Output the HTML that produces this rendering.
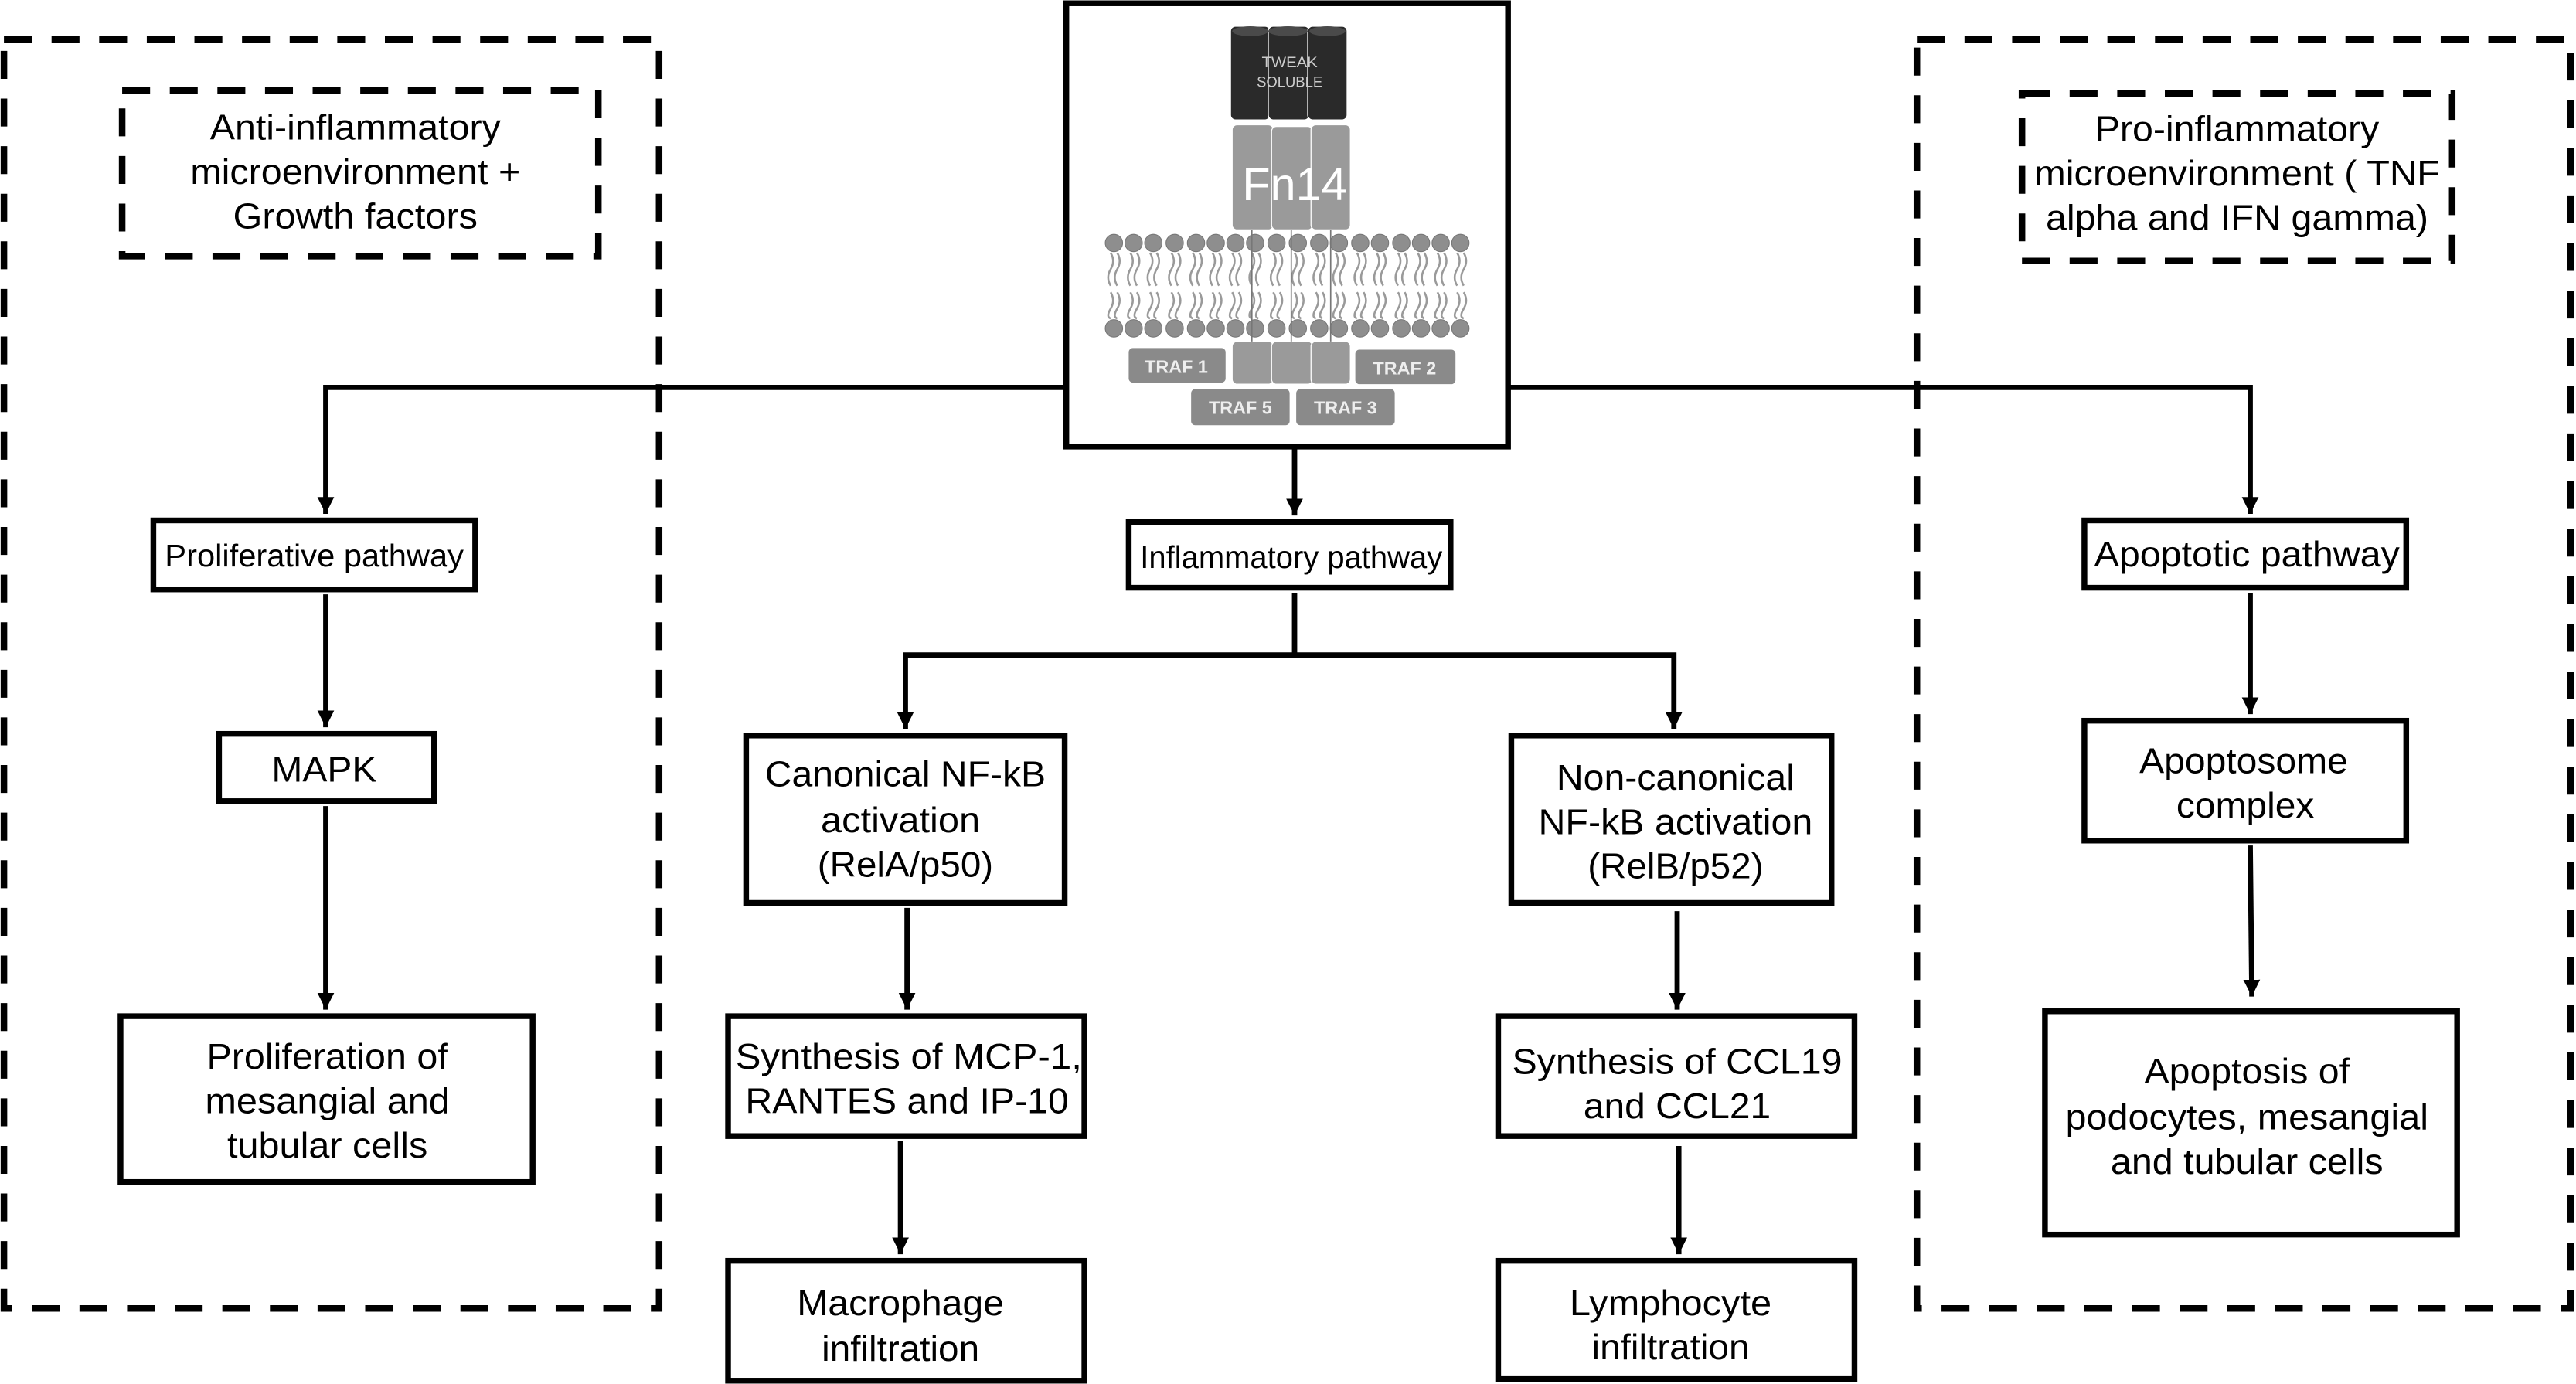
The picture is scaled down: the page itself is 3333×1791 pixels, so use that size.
<!DOCTYPE html>
<html><head><meta charset="utf-8"><style>html,body{margin:0;padding:0;background:#fff}svg{display:block}</style></head>
<body>
<svg width="3333" height="1791" viewBox="0 0 1568 843" xmlns="http://www.w3.org/2000/svg" font-family="'Liberation Sans', Arial, sans-serif">
<defs>
<marker id="ah" viewBox="0 0 10 10" refX="10" refY="5" markerWidth="3.2" markerHeight="3.2" orient="auto" markerUnits="strokeWidth"><path d="M0,0 L10,5 L0,10 z" fill="#000"/></marker>
</defs>
<rect width="1568" height="843" fill="#fff"/>
<g fill="none" stroke="#000" stroke-width="4" stroke-dasharray="17,12">
<rect x="2" y="24" width="399" height="773"/>
<rect x="74" y="55" width="290" height="101"/>
<rect x="1167" y="24" width="398" height="773"/>
<rect x="1231" y="57" width="262" height="102"/>
</g>
<g stroke="#000" stroke-width="3.2" fill="none">
<polyline points="648,236 198,236 198,313" marker-end="url(#ah)"/>
<polyline points="919,236 1370,236 1370,313" marker-end="url(#ah)"/>
<line x1="788" y1="273" x2="788" y2="314" marker-end="url(#ah)"/>
<line x1="198" y1="362" x2="198" y2="443" marker-end="url(#ah)"/>
<line x1="198" y1="491" x2="198" y2="615" marker-end="url(#ah)"/>
<polyline points="788,361 788,399 551,399 551,444" marker-end="url(#ah)"/>
<polyline points="788,399 1019,399 1019,444" marker-end="url(#ah)"/>
<line x1="552" y1="553" x2="552" y2="615" marker-end="url(#ah)"/>
<line x1="548" y1="695" x2="548" y2="764" marker-end="url(#ah)"/>
<line x1="1021" y1="555" x2="1021" y2="615" marker-end="url(#ah)"/>
<line x1="1022" y1="698" x2="1022" y2="764" marker-end="url(#ah)"/>
<line x1="1370" y1="361" x2="1370" y2="435" marker-end="url(#ah)"/>
<line x1="1370" y1="515" x2="1371" y2="607" marker-end="url(#ah)"/>
</g>
<g fill="#fff" stroke="#000" stroke-width="3.5">
<rect x="649" y="2" width="269" height="270"/>
<rect x="93" y="317" width="196" height="42"/>
<rect x="133" y="447" width="131" height="41"/>
<rect x="73" y="619" width="251" height="101"/>
<rect x="687" y="318" width="196" height="40"/>
<rect x="454" y="448" width="194" height="102"/>
<rect x="443" y="619" width="217" height="73"/>
<rect x="443" y="768" width="217" height="73"/>
<rect x="920" y="448" width="195" height="102"/>
<rect x="912" y="619" width="217" height="73"/>
<rect x="912" y="768" width="217" height="72"/>
<rect x="1269" y="317" width="196" height="41"/>
<rect x="1269" y="439" width="196" height="73"/>
<rect x="1245" y="616" width="251" height="136"/>
</g>
<g>
<g fill="#2a2a2a" stroke="#fff" stroke-width="0.6">
<rect x="749" y="16" width="24" height="57" rx="3"/>
<rect x="772" y="16" width="25" height="57" rx="3"/>
<rect x="796" y="16" width="24" height="57" rx="3"/>
</g>
<g fill="#4a4a4a"><ellipse cx="761" cy="19" rx="11" ry="3"/><ellipse cx="784" cy="19" rx="12" ry="3"/><ellipse cx="808" cy="19" rx="11" ry="3"/></g>
<text x="785" y="41" font-size="9" fill="#ccc" text-anchor="middle" textLength="34" lengthAdjust="spacingAndGlyphs">TWEAK</text>
<text x="785" y="53" font-size="9" fill="#ccc" text-anchor="middle" textLength="40" lengthAdjust="spacingAndGlyphs">SOLUBLE</text>
<g fill="#9a9a9a" stroke="#fff" stroke-width="0.6">
<rect x="750" y="76" width="25" height="64" rx="3"/>
<rect x="774" y="77" width="25" height="63" rx="3"/>
<rect x="798" y="76" width="24" height="64" rx="3"/>
<rect x="750" y="208" width="25" height="26" rx="3"/>
<rect x="774" y="208" width="25" height="26" rx="3"/>
<rect x="798" y="208" width="24" height="26" rx="3"/>
</g>
<text x="788" y="122" font-size="28" fill="#fff" text-anchor="middle">Fn14</text>
<g fill="#8e8e8e" stroke="#777" stroke-width="0.5">
<circle cx="678" cy="148" r="5.3"/><circle cx="690" cy="148" r="5.3"/><circle cx="702" cy="148" r="5.3"/><circle cx="715" cy="148" r="5.3"/><circle cx="728" cy="148" r="5.3"/><circle cx="740" cy="148" r="5.3"/><circle cx="752" cy="148" r="5.3"/><circle cx="764" cy="148" r="5.3"/><circle cx="777" cy="148" r="5.3"/><circle cx="790" cy="148" r="5.3"/><circle cx="803" cy="148" r="5.3"/><circle cx="815" cy="148" r="5.3"/><circle cx="828" cy="148" r="5.3"/><circle cx="840" cy="148" r="5.3"/><circle cx="853" cy="148" r="5.3"/><circle cx="865" cy="148" r="5.3"/><circle cx="877" cy="148" r="5.3"/><circle cx="889" cy="148" r="5.3"/>
<circle cx="678" cy="200" r="5.3"/><circle cx="690" cy="200" r="5.3"/><circle cx="702" cy="200" r="5.3"/><circle cx="715" cy="200" r="5.3"/><circle cx="728" cy="200" r="5.3"/><circle cx="740" cy="200" r="5.3"/><circle cx="752" cy="200" r="5.3"/><circle cx="764" cy="200" r="5.3"/><circle cx="777" cy="200" r="5.3"/><circle cx="790" cy="200" r="5.3"/><circle cx="803" cy="200" r="5.3"/><circle cx="815" cy="200" r="5.3"/><circle cx="828" cy="200" r="5.3"/><circle cx="840" cy="200" r="5.3"/><circle cx="853" cy="200" r="5.3"/><circle cx="865" cy="200" r="5.3"/><circle cx="877" cy="200" r="5.3"/><circle cx="889" cy="200" r="5.3"/>
</g>
<g stroke="#9a9a9a" stroke-width="1.2" fill="none">
<path d="M676,154 q3,5 0,10 q-3,5 0,10 M680,154 q3,5 0,10 q-3,5 0,10 M676,178 q3,5 0,10 q-3,5 0,6 M680,178 q3,5 0,10 q-3,5 0,6"/>
<path d="M688,154 q3,5 0,10 q-3,5 0,10 M692,154 q3,5 0,10 q-3,5 0,10 M688,178 q3,5 0,10 q-3,5 0,6 M692,178 q3,5 0,10 q-3,5 0,6"/>
<path d="M700,154 q3,5 0,10 q-3,5 0,10 M704,154 q3,5 0,10 q-3,5 0,10 M700,178 q3,5 0,10 q-3,5 0,6 M704,178 q3,5 0,10 q-3,5 0,6"/>
<path d="M713,154 q3,5 0,10 q-3,5 0,10 M717,154 q3,5 0,10 q-3,5 0,10 M713,178 q3,5 0,10 q-3,5 0,6 M717,178 q3,5 0,10 q-3,5 0,6"/>
<path d="M726,154 q3,5 0,10 q-3,5 0,10 M730,154 q3,5 0,10 q-3,5 0,10 M726,178 q3,5 0,10 q-3,5 0,6 M730,178 q3,5 0,10 q-3,5 0,6"/>
<path d="M738,154 q3,5 0,10 q-3,5 0,10 M742,154 q3,5 0,10 q-3,5 0,10 M738,178 q3,5 0,10 q-3,5 0,6 M742,178 q3,5 0,10 q-3,5 0,6"/>
<path d="M750,154 q3,5 0,10 q-3,5 0,10 M754,154 q3,5 0,10 q-3,5 0,10 M750,178 q3,5 0,10 q-3,5 0,6 M754,178 q3,5 0,10 q-3,5 0,6"/>
<path d="M762,154 q3,5 0,10 q-3,5 0,10 M766,154 q3,5 0,10 q-3,5 0,10 M762,178 q3,5 0,10 q-3,5 0,6 M766,178 q3,5 0,10 q-3,5 0,6"/>
<path d="M775,154 q3,5 0,10 q-3,5 0,10 M779,154 q3,5 0,10 q-3,5 0,10 M775,178 q3,5 0,10 q-3,5 0,6 M779,178 q3,5 0,10 q-3,5 0,6"/>
<path d="M788,154 q3,5 0,10 q-3,5 0,10 M792,154 q3,5 0,10 q-3,5 0,10 M788,178 q3,5 0,10 q-3,5 0,6 M792,178 q3,5 0,10 q-3,5 0,6"/>
<path d="M801,154 q3,5 0,10 q-3,5 0,10 M805,154 q3,5 0,10 q-3,5 0,10 M801,178 q3,5 0,10 q-3,5 0,6 M805,178 q3,5 0,10 q-3,5 0,6"/>
<path d="M813,154 q3,5 0,10 q-3,5 0,10 M817,154 q3,5 0,10 q-3,5 0,10 M813,178 q3,5 0,10 q-3,5 0,6 M817,178 q3,5 0,10 q-3,5 0,6"/>
<path d="M826,154 q3,5 0,10 q-3,5 0,10 M830,154 q3,5 0,10 q-3,5 0,10 M826,178 q3,5 0,10 q-3,5 0,6 M830,178 q3,5 0,10 q-3,5 0,6"/>
<path d="M838,154 q3,5 0,10 q-3,5 0,10 M842,154 q3,5 0,10 q-3,5 0,10 M838,178 q3,5 0,10 q-3,5 0,6 M842,178 q3,5 0,10 q-3,5 0,6"/>
<path d="M851,154 q3,5 0,10 q-3,5 0,10 M855,154 q3,5 0,10 q-3,5 0,10 M851,178 q3,5 0,10 q-3,5 0,6 M855,178 q3,5 0,10 q-3,5 0,6"/>
<path d="M863,154 q3,5 0,10 q-3,5 0,10 M867,154 q3,5 0,10 q-3,5 0,10 M863,178 q3,5 0,10 q-3,5 0,6 M867,178 q3,5 0,10 q-3,5 0,6"/>
<path d="M875,154 q3,5 0,10 q-3,5 0,10 M879,154 q3,5 0,10 q-3,5 0,10 M875,178 q3,5 0,10 q-3,5 0,6 M879,178 q3,5 0,10 q-3,5 0,6"/>
<path d="M887,154 q3,5 0,10 q-3,5 0,10 M891,154 q3,5 0,10 q-3,5 0,10 M887,178 q3,5 0,10 q-3,5 0,6 M891,178 q3,5 0,10 q-3,5 0,6"/>
</g>
<g stroke="#777" stroke-width="0.8"><line x1="762" y1="140" x2="762" y2="208"/><line x1="786" y1="140" x2="786" y2="208"/><line x1="810" y1="140" x2="810" y2="208"/></g>
<g fill="#8a8a8a">
<rect x="687" y="212" width="59" height="21" rx="2.5"/>
<rect x="825" y="213" width="61" height="21" rx="2.5"/>
<rect x="725" y="237" width="60" height="22" rx="2.5"/>
<rect x="789" y="237" width="60" height="22" rx="2.5"/>
</g>
<g fill="#eee" font-size="11" font-weight="bold" text-anchor="middle">
<text x="716" y="227">TRAF 1</text><text x="855" y="228">TRAF 2</text>
<text x="755" y="252">TRAF 5</text><text x="819" y="252">TRAF 3</text>
</g>
</g>
<g fill="#000" text-anchor="middle" font-size="22">
<text x="216" y="85" textLength="177" lengthAdjust="spacingAndGlyphs">Anti-inflammatory</text>
<text x="216" y="112" textLength="201" lengthAdjust="spacingAndGlyphs">microenvironment +</text>
<text x="216" y="139" textLength="149" lengthAdjust="spacingAndGlyphs">Growth factors</text>
<text x="1362" y="86" textLength="173" lengthAdjust="spacingAndGlyphs">Pro-inflammatory</text>
<text x="1362" y="113" textLength="247" lengthAdjust="spacingAndGlyphs">microenvironment ( TNF</text>
<text x="1362" y="140" textLength="233" lengthAdjust="spacingAndGlyphs">alpha and IFN gamma)</text>
<text x="191" y="345" font-size="19" textLength="182" lengthAdjust="spacingAndGlyphs">Proliferative pathway</text>
<text x="197" y="476" textLength="64" lengthAdjust="spacingAndGlyphs">MAPK</text>
<text x="199" y="651" textLength="147" lengthAdjust="spacingAndGlyphs">Proliferation of</text>
<text x="199" y="678" textLength="149" lengthAdjust="spacingAndGlyphs">mesangial and</text>
<text x="199" y="705" textLength="122" lengthAdjust="spacingAndGlyphs">tubular cells</text>
<text x="786" y="346" font-size="19" textLength="184" lengthAdjust="spacingAndGlyphs">Inflammatory pathway</text>
<text x="551" y="479" textLength="171" lengthAdjust="spacingAndGlyphs">Canonical NF-kB</text>
<text x="548" y="507" textLength="97" lengthAdjust="spacingAndGlyphs">activation</text>
<text x="551" y="534" textLength="107" lengthAdjust="spacingAndGlyphs">(RelA/p50)</text>
<text x="1020" y="481" textLength="145" lengthAdjust="spacingAndGlyphs">Non-canonical</text>
<text x="1020" y="508" textLength="167" lengthAdjust="spacingAndGlyphs">NF-kB activation</text>
<text x="1020" y="535" textLength="107" lengthAdjust="spacingAndGlyphs">(RelB/p52)</text>
<text x="553" y="651" textLength="211" lengthAdjust="spacingAndGlyphs">Synthesis of MCP-1,</text>
<text x="552" y="678" textLength="197" lengthAdjust="spacingAndGlyphs">RANTES and IP-10</text>
<text x="1021" y="654" textLength="201" lengthAdjust="spacingAndGlyphs">Synthesis of CCL19</text>
<text x="1021" y="681" textLength="114" lengthAdjust="spacingAndGlyphs">and CCL21</text>
<text x="548" y="801" textLength="126" lengthAdjust="spacingAndGlyphs">Macrophage</text>
<text x="548" y="829" textLength="96" lengthAdjust="spacingAndGlyphs">infiltration</text>
<text x="1017" y="801" textLength="123" lengthAdjust="spacingAndGlyphs">Lymphocyte</text>
<text x="1017" y="828" textLength="96" lengthAdjust="spacingAndGlyphs">infiltration</text>
<text x="1368" y="345" textLength="186" lengthAdjust="spacingAndGlyphs">Apoptotic pathway</text>
<text x="1366" y="471" textLength="127" lengthAdjust="spacingAndGlyphs">Apoptosome</text>
<text x="1367" y="498" textLength="84" lengthAdjust="spacingAndGlyphs">complex</text>
<text x="1368" y="660" textLength="125" lengthAdjust="spacingAndGlyphs">Apoptosis of</text>
<text x="1368" y="688" textLength="221" lengthAdjust="spacingAndGlyphs">podocytes, mesangial</text>
<text x="1368" y="715" textLength="166" lengthAdjust="spacingAndGlyphs">and tubular cells</text>
</g>
</svg>
</body></html>
